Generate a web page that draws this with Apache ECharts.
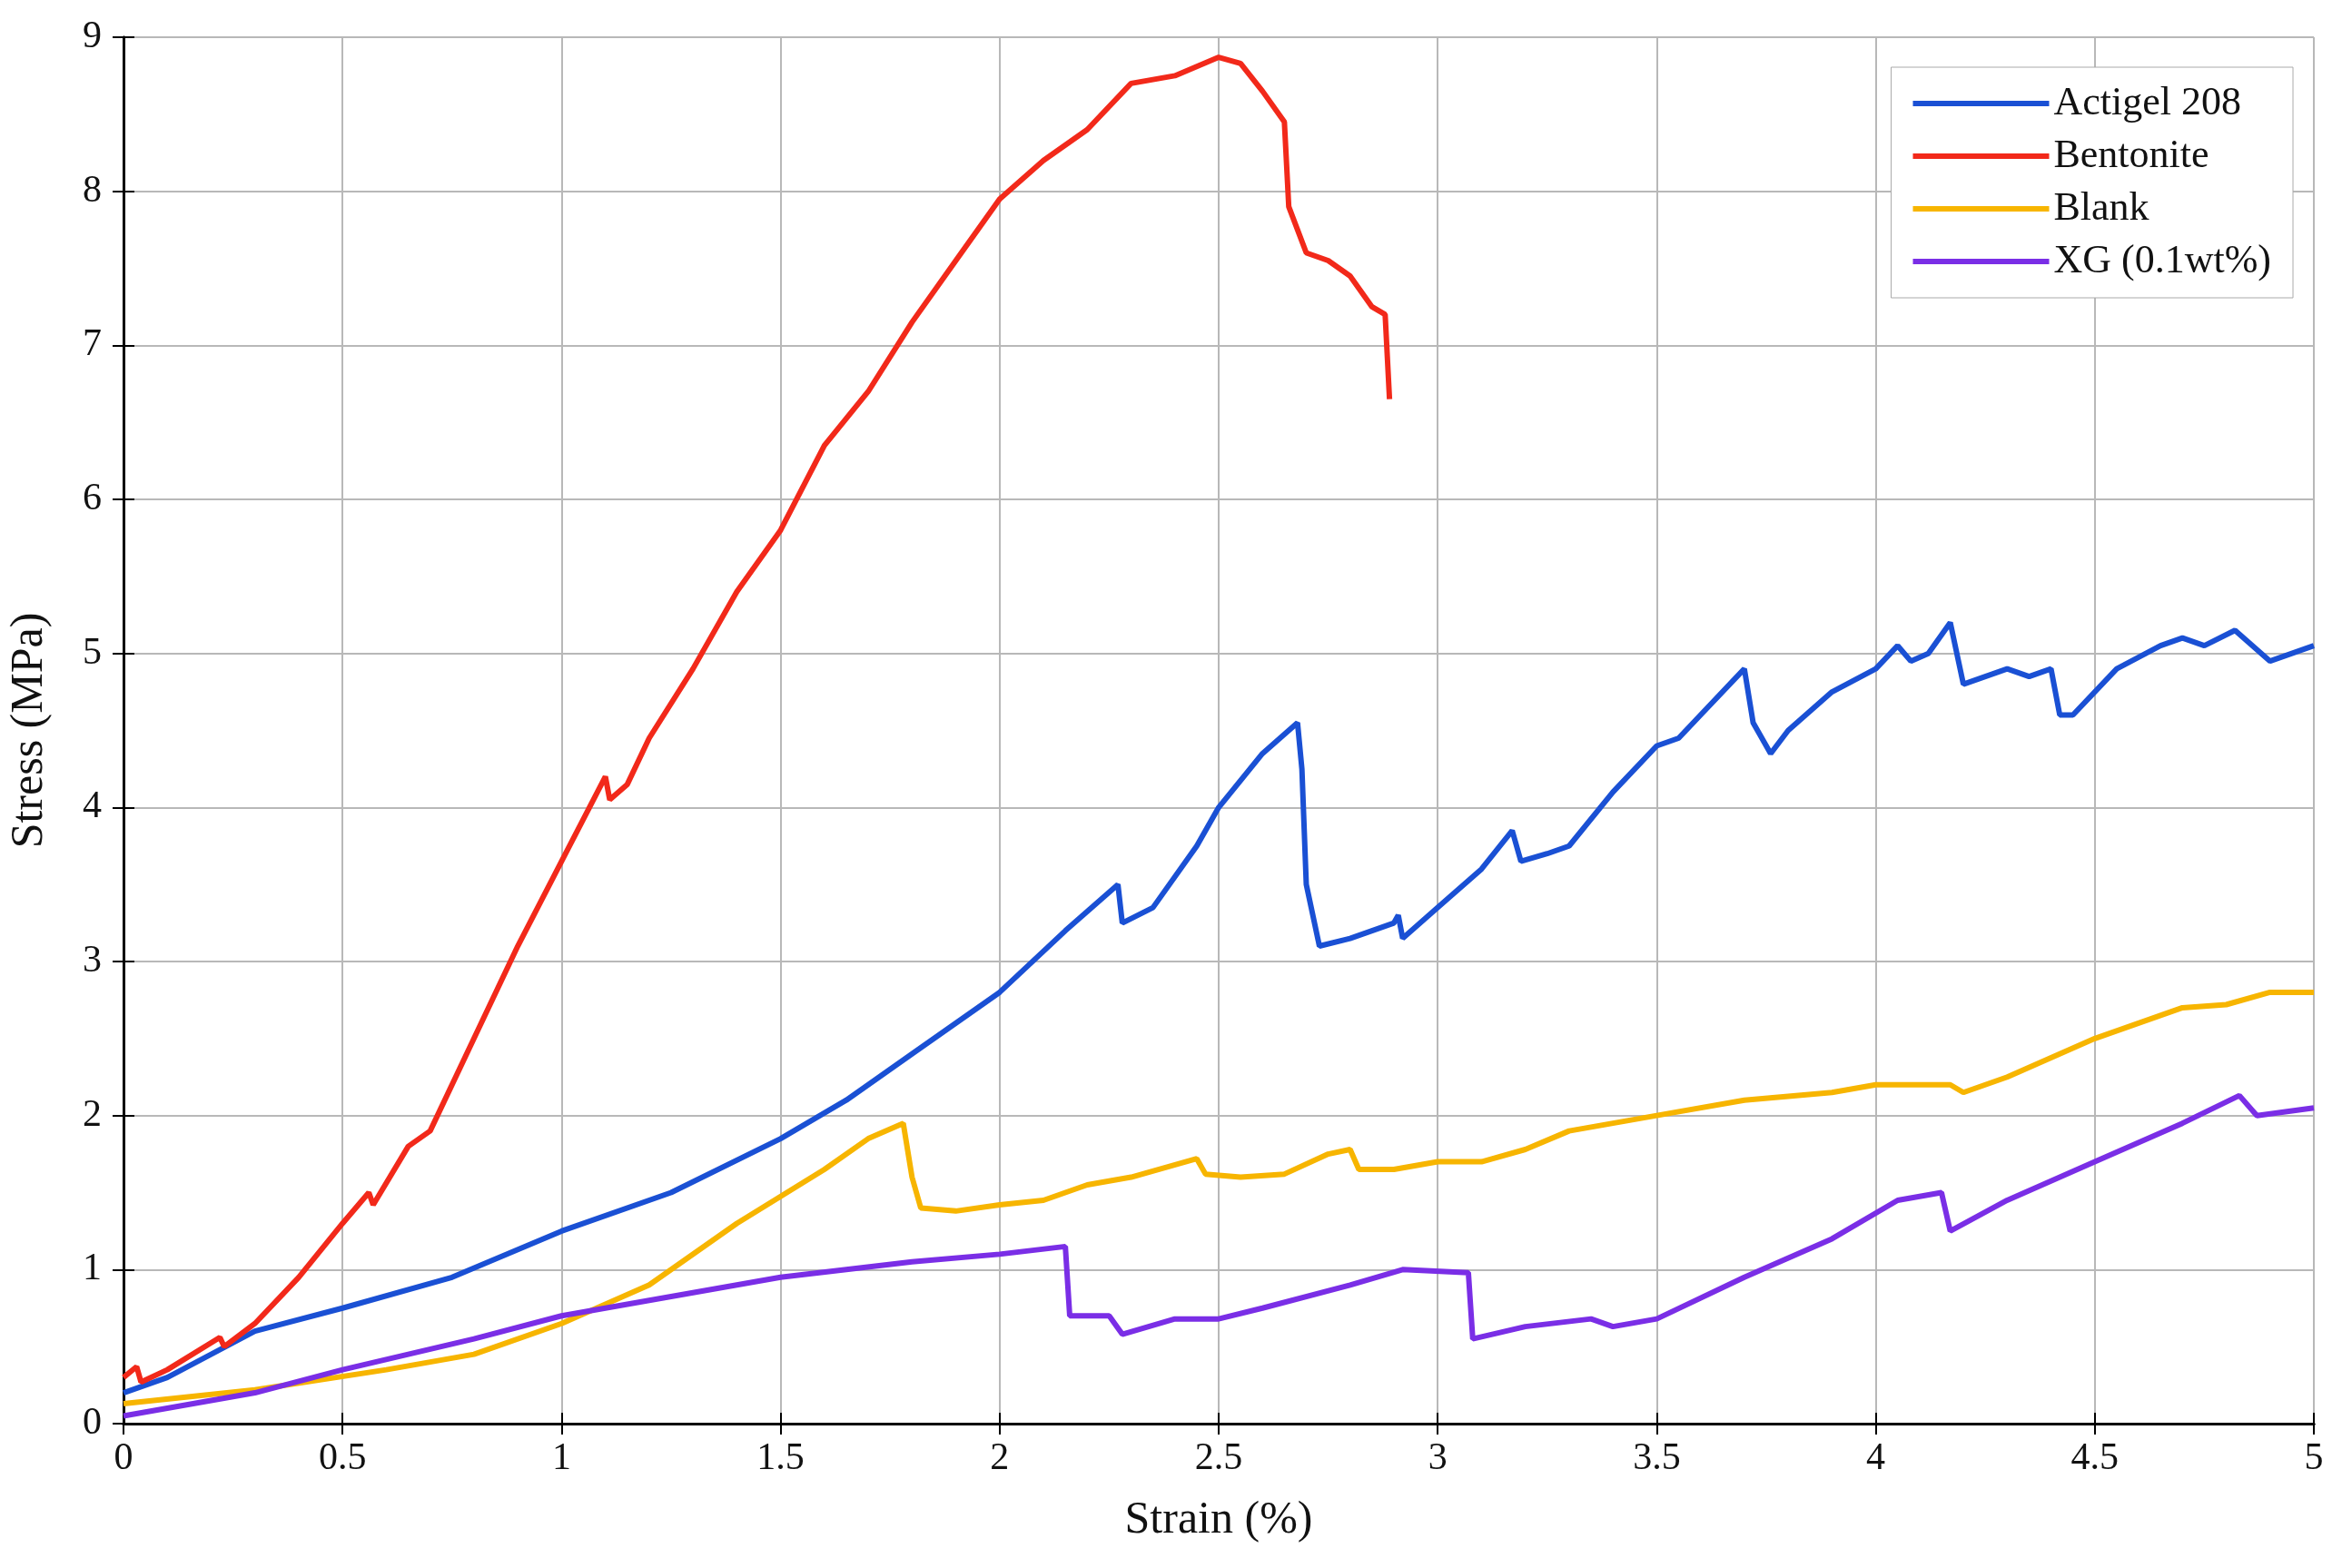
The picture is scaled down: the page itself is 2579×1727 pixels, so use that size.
<!DOCTYPE html>
<html><head><meta charset="utf-8">
<script src="https://cdn.jsdelivr.net/npm/echarts@6/dist/echarts.min.js"></script>
<style>html,body{margin:0;padding:0;background:#fff}#c{width:2579px;height:1727px}</style>
</head><body><div id="c"></div>
<script>
const seriesNames = ['Actigel 208','Bentonite','Blank','XG (0.1wt%)'];
const actigel = [[0,0.2],[0.1,0.3],[0.2,0.45],[0.3,0.6],[0.5,0.75],[0.75,0.95],[1.0,1.25],[1.25,1.5],[1.5,1.85],[1.65,2.1],[1.8,2.4],[2.0,2.8],[2.15,3.2],[2.27,3.5],[2.28,3.25],[2.35,3.35],[2.45,3.75],[2.5,4.0],[2.6,4.35],[2.68,4.55],[2.69,4.25],[2.7,3.5],[2.73,3.1],[2.8,3.15],[2.9,3.25],[2.91,3.3],[2.92,3.15],[3.0,3.35],[3.1,3.6],[3.17,3.85],[3.19,3.65],[3.25,3.7],[3.3,3.75],[3.4,4.1],[3.5,4.4],[3.55,4.45],[3.6,4.6],[3.7,4.9],[3.72,4.55],[3.76,4.35],[3.8,4.5],[3.9,4.75],[4.0,4.9],[4.05,5.05],[4.08,4.95],[4.12,5.0],[4.17,5.2],[4.2,4.8],[4.3,4.9],[4.35,4.85],[4.4,4.9],[4.42,4.6],[4.45,4.6],[4.55,4.9],[4.65,5.05],[4.7,5.1],[4.75,5.05],[4.82,5.15],[4.9,4.95],[5.0,5.05]];
const bentonite = [[0,0.3],[0.03,0.37],[0.04,0.27],[0.1,0.35],[0.22,0.56],[0.23,0.5],[0.3,0.65],[0.4,0.95],[0.5,1.3],[0.56,1.5],[0.57,1.42],[0.65,1.8],[0.7,1.9],[0.8,2.5],[0.9,3.1],[1.0,3.65],[1.1,4.2],[1.11,4.05],[1.15,4.15],[1.2,4.45],[1.3,4.9],[1.4,5.4],[1.5,5.8],[1.6,6.35],[1.7,6.7],[1.8,7.15],[1.9,7.55],[2.0,7.95],[2.1,8.2],[2.2,8.4],[2.3,8.7],[2.4,8.75],[2.5,8.87],[2.55,8.83],[2.6,8.65],[2.65,8.45],[2.66,7.9],[2.7,7.6],[2.75,7.55],[2.8,7.45],[2.85,7.25],[2.88,7.2],[2.89,6.65]];
const blank = [[0,0.13],[0.3,0.22],[0.6,0.35],[0.8,0.45],[1.0,0.65],[1.2,0.9],[1.4,1.3],[1.6,1.65],[1.7,1.85],[1.78,1.95],[1.8,1.6],[1.82,1.4],[1.9,1.38],[2.0,1.42],[2.1,1.45],[2.2,1.55],[2.3,1.6],[2.45,1.72],[2.47,1.62],[2.55,1.6],[2.65,1.62],[2.75,1.75],[2.8,1.78],[2.82,1.65],[2.9,1.65],[3.0,1.7],[3.1,1.7],[3.2,1.78],[3.3,1.9],[3.5,2.0],[3.7,2.1],[3.9,2.15],[4.0,2.2],[4.17,2.2],[4.2,2.15],[4.3,2.25],[4.5,2.5],[4.7,2.7],[4.8,2.72],[4.9,2.8],[5.0,2.8]];
const xg = [[0,0.05],[0.3,0.2],[0.5,0.35],[0.8,0.55],[1.0,0.7],[1.2,0.8],[1.5,0.95],[1.8,1.05],[2.0,1.1],[2.15,1.15],[2.16,0.7],[2.25,0.7],[2.28,0.58],[2.4,0.68],[2.5,0.68],[2.6,0.75],[2.8,0.9],[2.92,1.0],[3.07,0.98],[3.08,0.55],[3.2,0.63],[3.35,0.68],[3.4,0.63],[3.5,0.68],[3.7,0.95],[3.9,1.2],[4.05,1.45],[4.15,1.5],[4.17,1.25],[4.3,1.45],[4.5,1.7],[4.7,1.95],[4.83,2.13],[4.87,2.0],[5.0,2.05]];
const colors = ['#1a50d4','#f2291a','#f7b500','#7a2ee6'];
const datas = [actigel, bentonite, blank, xg];
const font = 'Liberation Serif';
const tick = {inside:true,length:12,lineStyle:{color:'#000',width:2}};
const line = {show:true,lineStyle:{color:'#000',width:3}};
const chart = echarts.init(document.getElementById('c'));
chart.setOption({
  animation:false,
  textStyle:{fontFamily:font,color:'#111'},
  grid:{left:135,right:31,top:41,bottom:159},
  legend:{right:54,top:74,orient:'vertical',backgroundColor:'#fff',borderColor:'#aaa',borderWidth:1,padding:[18,24,18,24],
    itemWidth:150,itemHeight:6,itemGap:14,icon:'rect',textStyle:{fontFamily:font,fontSize:44,color:'#111'},data:seriesNames},
  xAxis:[{type:'value',min:0,max:5,interval:0.5,name:'Strain (%)',nameLocation:'middle',nameGap:82,
    nameTextStyle:{fontSize:50,fontFamily:font,color:'#111'},
    axisLine:line,axisTick:tick,
    axisLabel:{fontSize:42,margin:18,color:'#111'},splitLine:{lineStyle:{color:'#b8b8b8',width:2}}},
    {type:'value',position:'top',min:0,max:5,interval:0.5,axisLine:line,axisTick:tick,axisLabel:{show:false},splitLine:{show:false}}],
  yAxis:[{type:'value',min:0,max:9,interval:1,name:'Stress (MPa)',nameLocation:'middle',nameGap:78,
    nameTextStyle:{fontSize:50,fontFamily:font,color:'#111'},
    axisLine:line,axisTick:tick,
    axisLabel:{fontSize:42,margin:24,color:'#111'},splitLine:{lineStyle:{color:'#b8b8b8',width:2}}},
    {type:'value',position:'right',min:0,max:9,interval:1,axisLine:line,axisTick:tick,axisLabel:{show:false},splitLine:{show:false}}],
  series: seriesNames.map((n,i)=>({name:n,type:'line',data:datas[i],showSymbol:false,symbol:'none',
    lineStyle:{color:colors[i],width:6},itemStyle:{color:colors[i]}}))
});
</script></body></html>
